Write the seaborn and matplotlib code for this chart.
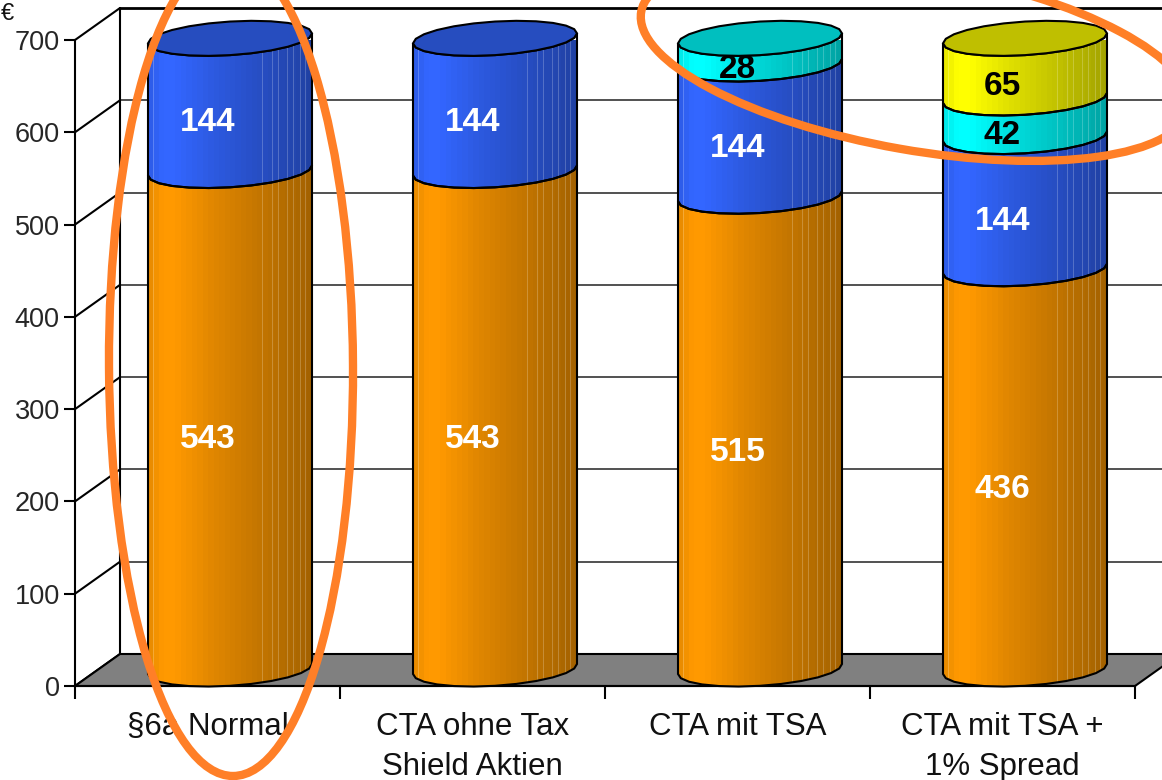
import numpy as np
import pandas as pd
import matplotlib
matplotlib.use("Agg")
import matplotlib.pyplot as plt
from matplotlib.colors import to_rgb
from matplotlib.patches import Ellipse, Polygon, Rectangle
from matplotlib.transforms import Affine2D
import seaborn as sns

# values
scenarios = ["§6a Normal", "CTA ohne Tax\nShield Aktien", "CTA mit TSA", "CTA mit TSA +\n1% Spread"]
layers = ["base", "blue", "cyan", "yellow"]
base_vals = [543, 543, 515, 436]
blue_vals = [144, 144, 144, 144]
cyan_vals = [0, 0, 28, 42]
yellow_vals = [0, 0, 0, 65]
y_ticks = [0, 100, 200, 300, 400, 500, 600, 700]
layer_colors = {"base": "#FF9900", "blue": "#3366FF", "cyan": "#00FFFF", "yellow": "#FFFF00"}
label_colors = {"base": "white", "blue": "white", "cyan": "black", "yellow": "black"}

sns.set_style("white")
plt.rcParams["font.family"] = ["Liberation Sans", "DejaVu Sans"]

W, H = 1162, 780
fig = plt.figure(figsize=(W / 100, H / 100), dpi=100)
ax = fig.add_axes([75 / W, (H - 686) / H, 1060 / W, 646 / H])

# long table with the running totals, drawn back to front by seaborn
cols = [base_vals, blue_vals, cyan_vals, yellow_vals]
rows = []
for name, vals in zip(layers, cols):
    running = [sum(c[i] for c in cols[: layers.index(name) + 1]) for i in range(4)]
    for i in range(4):
        if vals[i] > 0:
            rows.append({"pos": i, "layer": name, "value": vals[i], "top": running[i]})
df = pd.DataFrame(rows)

BAR_W = 164 / 265
for name in reversed(layers):
    sub = df[df["layer"] == name]
    sns.barplot(data=sub, x="pos", y="top", color=layer_colors[name], saturation=1,
                width=BAR_W, native_scale=True, errorbar=None, ax=ax)

X0 = -155 / 265  # front axis start relative to first bar
PX_Y = 646 / 700  # pixels per unit
DX, DY = 45 / 265, 32 / PX_Y  # depth of the chart box
RIGHT = X0 + 4

# back wall, floor
ax.add_patch(Polygon([(X0, 0), (X0 + DX, DY), (RIGHT + DX, DY), (RIGHT, 0)], closed=True,
                     fc="#808080", ec="black", lw=1.5, zorder=1.2, clip_on=False))
for v in y_ticks[1:]:
    top = v == 700
    ax.plot([X0 + DX, RIGHT + DX], [v + DY, v + DY], color="black" if top else "#222222",
            lw=2 if top else 1.1, zorder=1, clip_on=False)
for v in y_ticks:
    ax.plot([X0, X0 + DX], [v, v + DY], color="black", lw=1.5, zorder=1.1, clip_on=False)
ax.plot([X0 + DX, X0 + DX], [DY, 700 + DY], color="black", lw=1.5, zorder=1.1, clip_on=False)

# cylinders
SCALE = 0.918 / PX_Y
BASE = 17 / PX_Y
B = 16.8 / PX_Y
TILT = 5 / PX_Y
A = BAR_W / 2
theta = np.linspace(0, np.pi, 13)
shade_x = [0, 0.09, 0.16, 0.4, 0.7, 1]
shade_y = [0.9, 1, 1, 0.88, 0.76, 0.64]
facets = [0.03, 0.695, 0.755, 0.795, 0.845, 0.885, 0.925, 0.955]


def arc(cx, level, lower=True):
    xs = cx - A * np.cos(theta)
    c = BASE + SCALE * level
    tilt = TILT * (xs - cx) / A
    ys = c + tilt + (-B if lower else B) * np.sin(theta)
    return xs, ys


# seaborn's flat bars only give the geometry, the cylinders replace them
for p in ax.patches:
    if isinstance(p, Rectangle):
        p.set_visible(False)

for i in range(4):
    lo = 0
    sub = df[df["pos"] == i]
    for _, row in sub.iterrows():
        color = np.array(to_rgb(layer_colors[row["layer"]]))
        hi = row["top"]
        x1, y1 = arc(i, lo)
        x2, y2 = arc(i, hi)
        pts = np.r_[np.c_[x1, y1], np.c_[x2, y2][::-1]]
        poly = Polygon(pts, closed=True, fc="none", ec="black", lw=1.5, zorder=3.2, clip_on=False)
        ax.add_patch(poly)
        n = 30
        fr = (np.arange(n) + 0.5) / n
        img = np.clip(np.interp(fr, shade_x, shade_y)[None, :, None] * color, 0, 1)
        im = ax.imshow(img, extent=(i - A, i + A, pts[:, 1].min(), pts[:, 1].max()), aspect="auto",
                       interpolation="nearest", zorder=3)
        im.set_clip_path(poly)
        fl = ax.vlines(i - A + np.array(facets) * 2 * A, pts[:, 1].min(), pts[:, 1].max(),
                       color="white", alpha=0.22, lw=0.7, zorder=3.1)
        fl.set_clip_path(poly)
        lo = hi
    # top cap
    x1, y1 = arc(i, lo)
    x2, y2 = arc(i, lo, lower=False)
    cap = np.r_[np.c_[x1, y1], np.c_[x2, y2][::-1]]
    ax.add_patch(Polygon(cap, closed=True, fc=color * 0.75, ec="black", lw=1.5, zorder=3.3, clip_on=False))

# value labels sit on the front plane
for i in range(4):
    sub = df[df["pos"] == i]
    for _, row in sub.iterrows():
        mid = row["top"] - row["value"] / 2
        ax.text(i + X0 + 0.5, mid - 4.5 / PX_Y, str(row["value"]), ha="center", va="center",
                fontsize=24, fontweight="bold", color=label_colors[row["layer"]], zorder=5)

ax.set_xlim(X0, RIGHT)
ax.set_ylim(0, 700)
ax.set_yticks(y_ticks)
ax.set_xticks([X0 + k for k in range(5)], [""] * 5)
ax.set_xticks([X0 + 0.5 + k for k in range(4)], scenarios, minor=True)
ax.set_xlabel("")
ax.set_ylabel("")
ax.tick_params(axis="y", which="major", length=8, width=1.5, color="black", labelsize=19.5, pad=3, left=True)
ax.tick_params(axis="x", which="major", length=9, width=1.5, color="black", bottom=True)
ax.tick_params(axis="x", which="minor", length=0, labelsize=22.5, pad=19, labelcolor="#111111")
for lab in ax.get_xticklabels(minor=True):
    lab.set_linespacing(1.4)
sns.despine(ax=ax, top=True, right=True)
for s in ["left", "bottom"]:
    ax.spines[s].set_color("black")
    ax.spines[s].set_linewidth(1.5)

# pixel coordinates for the annotations
px = Affine2D().scale(1, -1).translate(0, H)
fig.text(14 / W, (H - 20) / H, "€", ha="right", va="baseline", fontsize=17, color="#111111")
ring = "#FF7F27"
fig.add_artist(Ellipse((231, 366), 244, 820, angle=-0.3, fc="none", ec=ring, lw=6, transform=px, zorder=10))
fig.add_artist(Ellipse((915, 60), 556, 180, angle=10, fc="none", ec=ring, lw=6, transform=px, zorder=10))

fig.savefig("out.png", dpi=100)
